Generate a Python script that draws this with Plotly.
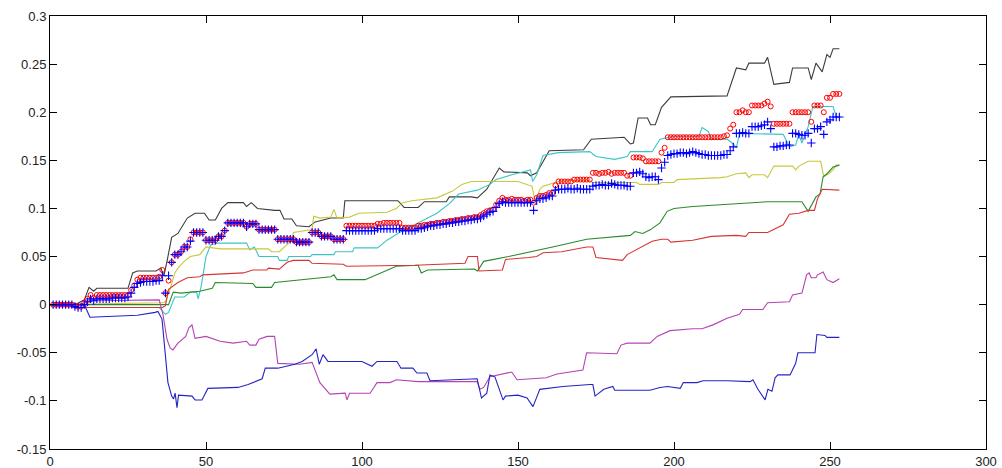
import plotly.graph_objects as go

# ---------------- data ----------------
x_tickvals = [0, 50, 100, 150, 200, 250, 300]
x_ticktext = ["0", "50", "100", "150", "200", "250", "300"]
y_tickvals = [-0.15, -0.1, -0.05, 0, 0.05, 0.1, 0.15, 0.2, 0.25, 0.3]
y_ticktext = ["-0.15", "-0.1", "-0.05", "0", "0.05", "0.1", "0.15", "0.2", "0.25", "0.3"]

black_x = [0, 8, 11, 12.5, 14, 15, 25, 26.5, 28, 34, 35.5, 36.5, 37.5, 39, 41, 44, 46.5, 49.5, 51, 53, 55, 57, 62, 63, 64.5,
           66.5, 72, 73.7, 75, 77.5, 79, 83, 85, 90, 94, 94.5, 111.5, 113.5, 118, 120, 127, 128, 135, 137, 140, 144, 145.5,
           153, 154, 156, 160, 171, 173.5, 184, 186, 187, 188.5, 191.5, 192.5, 194, 196, 198, 199, 217, 220, 223, 224, 229,
           230, 232, 237, 238, 243, 244, 245.5, 247.5, 249, 250, 251, 253]
black_y = [0, 0, 0.005, 0.018, 0.014, 0.017, 0.017, 0.033, 0.035, 0.035, 0.038, 0.03, 0.045, 0.07, 0.074, 0.09, 0.095, 0.095,
           0.088, 0.088, 0.1, 0.106, 0.106, 0.102, 0.106, 0.1, 0.098, 0.098, 0.089, 0.089, 0.082, 0.081, 0.086, 0.09, 0.09,
           0.108, 0.108, 0.101, 0.101, 0.107, 0.107, 0.112, 0.112, 0.111, 0.12, 0.142, 0.138, 0.137, 0.134, 0.137, 0.16, 0.161,
           0.172, 0.174, 0.167, 0.168, 0.194, 0.194, 0.187, 0.187, 0.205, 0.213, 0.216, 0.217, 0.246, 0.244, 0.251, 0.251,
           0.257, 0.229, 0.231, 0.246, 0.246, 0.234, 0.251, 0.242, 0.26, 0.257, 0.266, 0.266]

cyan_x = [0, 10, 11, 35, 37, 38, 40, 43, 45, 47, 47.5, 48.5, 50, 51.5, 54, 63, 64, 65.5, 67, 73, 73.5, 76, 76.5, 83.5, 84, 91,
          91.5, 97, 97.5, 105, 108, 112, 115, 120, 124, 128, 131, 137, 141, 143, 148, 154, 154.7, 156, 158, 163, 173, 175,
          181, 185, 186, 193, 195.5, 200, 208, 209, 211, 212, 217, 219, 220, 221, 235, 237, 239, 240, 241, 243, 244.5, 251,
          252, 253]
cyan_y = [0, 0, -0.003, -0.003, -0.01, -0.008, 0.008, 0.008, 0.013, 0.013, 0.006, 0.02, 0.05, 0.062, 0.064, 0.064, 0.057, 0.06,
          0.05, 0.05, 0.046, 0.046, 0.05, 0.05, 0.052, 0.052, 0.055, 0.055, 0.059, 0.059, 0.067, 0.075, 0.08, 0.088, 0.095,
          0.105, 0.115, 0.119, 0.125, 0.13, 0.135, 0.14, 0.128, 0.135, 0.155, 0.158, 0.159, 0.154, 0.151, 0.154, 0.159, 0.159,
          0.172, 0.175, 0.175, 0.184, 0.18, 0.172, 0.172, 0.167, 0.163, 0.178, 0.177, 0.164, 0.166, 0.177, 0.168, 0.185,
          0.206, 0.206, 0.195, 0.195]

yellow_x = [0, 36, 37, 38.5, 40, 41, 43, 45, 48, 50, 54.5, 70, 71, 73.5, 77.5, 78, 84, 84.5, 86.5, 90, 91, 92, 96, 99, 108,
            111, 113, 116, 124, 129, 132, 135, 150, 153, 154.5, 155.5, 157, 158, 163, 172, 174, 188, 189, 195, 196, 200, 201,
            215, 217, 220, 223, 224, 225, 229, 230, 232, 238, 239, 240, 243, 247, 248, 249.5, 251, 252, 253]
yellow_y = [0, 0.002, 0.003, 0.016, 0.033, 0.038, 0.045, 0.05, 0.052, 0.06, 0.058, 0.058, 0.055, 0.055, 0.067, 0.075, 0.078,
            0.092, 0.09, 0.091, 0.099, 0.09, 0.091, 0.095, 0.096, 0.1, 0.106, 0.108, 0.111, 0.118, 0.125, 0.128, 0.128, 0.125,
            0.123, 0.107, 0.12, 0.123, 0.128, 0.13, 0.127, 0.127, 0.125, 0.125, 0.127, 0.127, 0.13, 0.132, 0.133, 0.136, 0.137,
            0.132, 0.135, 0.135, 0.132, 0.144, 0.144, 0.14, 0.144, 0.149, 0.149, 0.133, 0.136, 0.14, 0.145, 0.145]

green_x = [0, 38, 39.5, 42, 48, 52, 53, 65, 66, 71, 72, 90, 91, 92, 101, 108, 111, 118, 119, 121, 136, 137, 139, 147, 156,
           164, 172, 184, 186, 187.5, 190, 192.5, 195.5, 197.8, 200, 206, 217, 230, 241, 242.5, 243, 245.5, 246.8, 247.8, 249,
           251, 253]
green_y = [0, 0, 0.013, 0.012, 0.014, 0.017, 0.023, 0.022, 0.018, 0.018, 0.023, 0.029, 0.031, 0.026, 0.026, 0.036, 0.04, 0.041,
           0.033, 0.036, 0.037, 0.035, 0.045, 0.05, 0.056, 0.062, 0.068, 0.071, 0.072, 0.076, 0.074, 0.078, 0.085, 0.097, 0.1,
           0.102, 0.104, 0.107, 0.107, 0.1, 0.097, 0.112, 0.115, 0.133, 0.136, 0.143, 0.145]

redline_x = [0, 10, 12, 36, 37, 38, 41, 44, 48, 49, 62, 65, 69.5, 70, 73.5, 76, 78, 83, 84, 94, 95, 117, 133, 134, 137, 137.5,
             145, 146, 153.5, 156, 158, 164, 172, 174, 175, 183.5, 185, 188, 193, 196, 198, 199, 206, 212, 220, 223, 224, 230,
             232, 235, 237, 240, 243, 245, 246, 247.5, 253]
redline_y = [0, 0, -0.003, -0.003, -0.001, 0.016, 0.023, 0.028, 0.029, 0.031, 0.033, 0.036, 0.036, 0.038, 0.037, 0.044, 0.046,
             0.046, 0.043, 0.042, 0.04, 0.041, 0.043, 0.05, 0.05, 0.035, 0.036, 0.047, 0.049, 0.05, 0.054, 0.055, 0.06, 0.06,
             0.049, 0.046, 0.052, 0.057, 0.066, 0.068, 0.068, 0.065, 0.067, 0.071, 0.072, 0.071, 0.075, 0.075, 0.078, 0.083,
             0.094, 0.095, 0.098, 0.098, 0.11, 0.12, 0.119]

magenta_x = [0, 10, 14, 35, 36.2, 37.5, 38.5, 39.4, 41, 43.5, 44.5, 45.5, 46.5, 50, 54.5, 58.7, 63, 64, 66, 67, 69.6, 72, 73,
             80, 84, 86.5, 89.7, 94.6, 95.2, 96, 102.6, 104.8, 109, 111, 118, 136.9, 137.8, 139, 141, 146, 148, 149.7, 159,
             162.5, 170.8, 172, 181.7, 183, 185, 192.3, 194.6, 198.7, 206, 209, 212.5, 217, 221, 222, 228.5, 230, 237, 238,
             241, 242.5, 243.3, 244, 245.5, 246, 247.8, 249, 251, 253]
magenta_y = [0, 0.001, 0.004, 0.005, -0.01, -0.036, -0.045, -0.047, -0.04, -0.033, -0.024, -0.021, -0.035, -0.033, -0.038,
             -0.04, -0.038, -0.042, -0.042, -0.036, -0.033, -0.033, -0.061, -0.062, -0.06, -0.081, -0.093, -0.092, -0.099,
             -0.092, -0.092, -0.081, -0.081, -0.078, -0.08, -0.08, -0.088, -0.086, -0.075, -0.071, -0.07, -0.078, -0.076,
             -0.072, -0.068, -0.05, -0.051, -0.042, -0.04, -0.04, -0.033, -0.027, -0.025, -0.025, -0.021, -0.014, -0.01,
             -0.005, -0.005, 0.002, 0.003, 0.01, 0.012, 0.031, 0.033, 0.028, 0.028, 0.031, 0.034, 0.026, 0.023, 0.027]

blueline_x = [0, 11, 12.8, 20, 28, 33.7, 34.6, 35.9, 36.8, 37.8, 39, 39.6, 40.1, 40.7, 41.2, 45.5, 46.5, 48.7, 50.6, 60.3,
              63.5, 66.7, 68, 69, 73, 78.5, 80.8, 84, 85.3, 86.3, 87.5, 89.1, 100, 103.2, 104.8, 111.2, 112.5, 116.3, 117.6,
              120.8, 121.8, 136.9, 138.3, 140, 141, 142.6, 145.2, 146, 150, 152.9, 154.8, 157, 164.4, 173.1, 174, 174.7,
              177.5, 180.4, 181, 192.3, 195.5, 198, 202, 203, 207.4, 209.3, 217, 224.4, 225.3, 226.9, 228.5, 229.2, 230.1,
              231.4, 232.4, 233.3, 237.2, 239, 239.7, 245.2, 245.8, 248.4, 249, 253]
blueline_y = [0, 0, -0.013, -0.012, -0.011, -0.008, -0.007, -0.015, -0.047, -0.081, -0.095, -0.098, -0.092, -0.107, -0.094,
              -0.095, -0.099, -0.099, -0.087, -0.086, -0.083, -0.079, -0.077, -0.066, -0.066, -0.062, -0.059, -0.052, -0.046,
              -0.062, -0.052, -0.059, -0.059, -0.064, -0.059, -0.059, -0.066, -0.066, -0.071, -0.071, -0.079, -0.077, -0.097,
              -0.092, -0.073, -0.075, -0.099, -0.095, -0.094, -0.097, -0.106, -0.088, -0.085, -0.083, -0.083, -0.095, -0.088,
              -0.085, -0.089, -0.089, -0.086, -0.085, -0.087, -0.081, -0.081, -0.079, -0.079, -0.08, -0.078, -0.088, -0.095,
              -0.099, -0.088, -0.09, -0.076, -0.073, -0.073, -0.061, -0.05, -0.05, -0.031, -0.032, -0.034, -0.034]

red_circles = [
    0, 0, 0, 0, 0, 0, 0, -0.001, -0.002, -0.002,
    0.002, 0.006, 0.010, 0.007, 0.010, 0.010, 0.010, 0.010, 0.010, 0.010,
    0.010, 0.010, 0.010, 0.010, 0.010, 0.015, 0.020, 0.026, 0.028, 0.028,
    0.028, 0.028, 0.028, 0.028, 0.029, 0.036, 0.012, 0.025, 0.044, 0.052,
    0.052, 0.055, 0.060, 0.060, 0.068, 0.075, 0.075, 0.075, 0.075, 0.067,
    0.067, 0.067, 0.067, 0.071, 0.071, 0.077, 0.085, 0.085, 0.085, 0.085,
    0.085, 0.085, 0.081, 0.084, 0.084, 0.084, 0.078, 0.078, 0.078, 0.078,
    0.078, 0.078, 0.068, 0.068, 0.068, 0.068, 0.068, 0.068, 0.065, 0.065,
    0.065, 0.065, 0.065, 0.075, 0.075, 0.075, 0.071, 0.071, 0.071, 0.071,
    0.068, 0.068, 0.068, 0.068, 0.082, 0.082, 0.082, 0.082, 0.082, 0.082,
    0.082, 0.082, 0.082, 0.082, 0.084, 0.084, 0.085, 0.085, 0.085, 0.085,
    0.085, 0.085, 0.080, 0.080, 0.080, 0.080, 0.080, 0.082, 0.082, 0.083,
    0.083, 0.084, 0.084, 0.085, 0.085, 0.086, 0.086, 0.087, 0.087, 0.088,
    0.088, 0.089, 0.089, 0.090, 0.090, 0.091, 0.091, 0.093, 0.095, 0.097,
    0.098, 0.099, 0.104, 0.108, 0.111, 0.109, 0.109, 0.110, 0.109, 0.109,
    0.109, 0.108, 0.109, 0.109, 0.106, 0.111, 0.113, 0.113, 0.114, 0.116,
    0.116, 0.124, 0.128, 0.128, 0.128, 0.128, 0.128, 0.130, 0.130, 0.130,
    0.130, 0.130, 0.130, 0.137, 0.137, 0.136, 0.137, 0.137, 0.138, 0.136,
    0.137, 0.137, 0.137, 0.137, 0.134, 0.134, 0.153, 0.153, 0.153, 0.152,
    0.149, 0.149, 0.149, 0.149, 0.149, 0.158, 0.163, 0.174, 0.174, 0.174,
    0.174, 0.174, 0.174, 0.174, 0.174, 0.174, 0.174, 0.174, 0.174, 0.174,
    0.174, 0.174, 0.174, 0.174, 0.174, 0.175, 0.176, 0.183, 0.187, 0.200,
    0.200, 0.202, 0.200, 0.200, 0.207, 0.207, 0.207, 0.207, 0.209, 0.211,
    0.206, 0.188, 0.188, 0.188, 0.188, 0.188, 0.188, 0.200, 0.200, 0.200,
    0.200, 0.200, 0.200, 0.190, 0.207, 0.207, 0.207, 0.200, 0.215, 0.215,
    0.219, 0.219, 0.219]

blue_plus = [
    0, 0, 0, 0, 0, 0, 0, -0.002, -0.003, -0.003,
    0.000, 0.003, 0.006, 0.004, 0.006, 0.006, 0.006, 0.006, 0.006, 0.007,
    0.007, 0.007, 0.007, 0.007, 0.008, 0.012, 0.018, 0.022, 0.023, 0.024,
    0.024, 0.024, 0.024, 0.025, 0.025, 0.030, 0.012, 0.030, 0.044, 0.052,
    0.052, 0.055, 0.060, 0.060, 0.066, 0.075, 0.075, 0.075, 0.075, 0.067,
    0.067, 0.067, 0.067, 0.071, 0.071, 0.077, 0.085, 0.085, 0.085, 0.085,
    0.085, 0.085, 0.081, 0.084, 0.084, 0.084, 0.078, 0.078, 0.078, 0.078,
    0.078, 0.078, 0.068, 0.068, 0.068, 0.068, 0.068, 0.068, 0.065, 0.065,
    0.065, 0.065, 0.065, 0.075, 0.075, 0.075, 0.071, 0.071, 0.071, 0.071,
    0.068, 0.068, 0.068, 0.068, 0.077, 0.077, 0.077, 0.077, 0.077, 0.077,
    0.077, 0.077, 0.077, 0.077, 0.079, 0.079, 0.079, 0.079, 0.079, 0.079,
    0.079, 0.079, 0.077, 0.077, 0.077, 0.077, 0.077, 0.079, 0.079, 0.080,
    0.081, 0.082, 0.082, 0.083, 0.083, 0.084, 0.084, 0.085, 0.085, 0.086,
    0.086, 0.087, 0.087, 0.088, 0.088, 0.089, 0.089, 0.090, 0.092, 0.094,
    0.096, 0.097, 0.101, 0.105, 0.107, 0.106, 0.106, 0.106, 0.106, 0.106,
    0.106, 0.106, 0.106, 0.106, 0.098, 0.108, 0.110, 0.110, 0.111, 0.113,
    0.113, 0.119, 0.120, 0.120, 0.120, 0.121, 0.120, 0.120, 0.121, 0.120,
    0.120, 0.120, 0.120, 0.123, 0.124, 0.124, 0.125, 0.124, 0.124, 0.126,
    0.125, 0.124, 0.124, 0.124, 0.123, 0.123, 0.137, 0.137, 0.138, 0.136,
    0.133, 0.132, 0.133, 0.133, 0.130, 0.142, 0.148, 0.155, 0.156, 0.157,
    0.157, 0.158, 0.158, 0.157, 0.158, 0.159, 0.158, 0.157, 0.156, 0.156,
    0.155, 0.155, 0.155, 0.155, 0.155, 0.156, 0.156, 0.160, 0.164, 0.178,
    0.178, 0.179, 0.178, 0.178, 0.185, 0.185, 0.185, 0.186, 0.187, 0.190,
    0.183, 0.164, 0.164, 0.165, 0.165, 0.166, 0.166, 0.178, 0.178, 0.177,
    0.176, 0.176, 0.178, 0.168, 0.183, 0.183, 0.185, 0.177, 0.190, 0.192,
    0.195, 0.195, 0.195]

# ---------------- figure ----------------
fig = go.Figure()

lines = [
    (black_x, black_y, "#3c3c3c"),
    (cyan_x, cyan_y, "#3cc4c4"),
    (yellow_x, yellow_y, "#c8c83a"),
    (green_x, green_y, "#2a8a2a"),
    (redline_x, redline_y, "#d83434"),
    (magenta_x, magenta_y, "#b444b4"),
    (blueline_x, blueline_y, "#2424c4"),
]
for xs, ys, col in lines:
    fig.add_trace(go.Scatter(x=xs, y=ys, mode="lines", line=dict(color=col, width=1.1),
                             showlegend=False, hoverinfo="skip"))

fig.add_trace(go.Scatter(x=list(range(1, len(red_circles) + 1)), y=red_circles, mode="markers",
                         marker=dict(symbol="circle-open", size=5, color="#ff0000", line=dict(width=1, color="#ff0000")),
                         showlegend=False, hoverinfo="skip"))
fig.add_trace(go.Scatter(x=list(range(1, len(blue_plus) + 1)), y=blue_plus, mode="markers",
                         marker=dict(symbol="cross-thin-open", size=6, color="#0000ff", line=dict(width=1.1, color="#0000ff")),
                         showlegend=False, hoverinfo="skip"))

axis_font = dict(family="Liberation Sans, Arial, sans-serif", size=13, color="#222222")
fig.update_layout(
    width=1002, height=468,
    margin=dict(l=50, r=16, t=16, b=19),
    paper_bgcolor="white", plot_bgcolor="white",
    xaxis=dict(range=[0, 300], tickvals=x_tickvals, ticktext=x_ticktext, ticks="inside", ticklen=7,
               tickcolor="black", showline=True, linecolor="black", linewidth=1, mirror="ticks",
               showgrid=False, zeroline=False, tickfont=axis_font, automargin=False),
    yaxis=dict(range=[-0.15, 0.3], tickvals=y_tickvals, ticktext=y_ticktext, ticks="inside", ticklen=7,
               tickcolor="black", showline=True, linecolor="black", linewidth=1, mirror="ticks",
               showgrid=False, zeroline=False, tickfont=axis_font, automargin=False),
)

fig.write_html("out.html", config={"displayModeBar": False},
               post_script="document.body.style.margin='0';document.body.style.overflow='hidden';")
